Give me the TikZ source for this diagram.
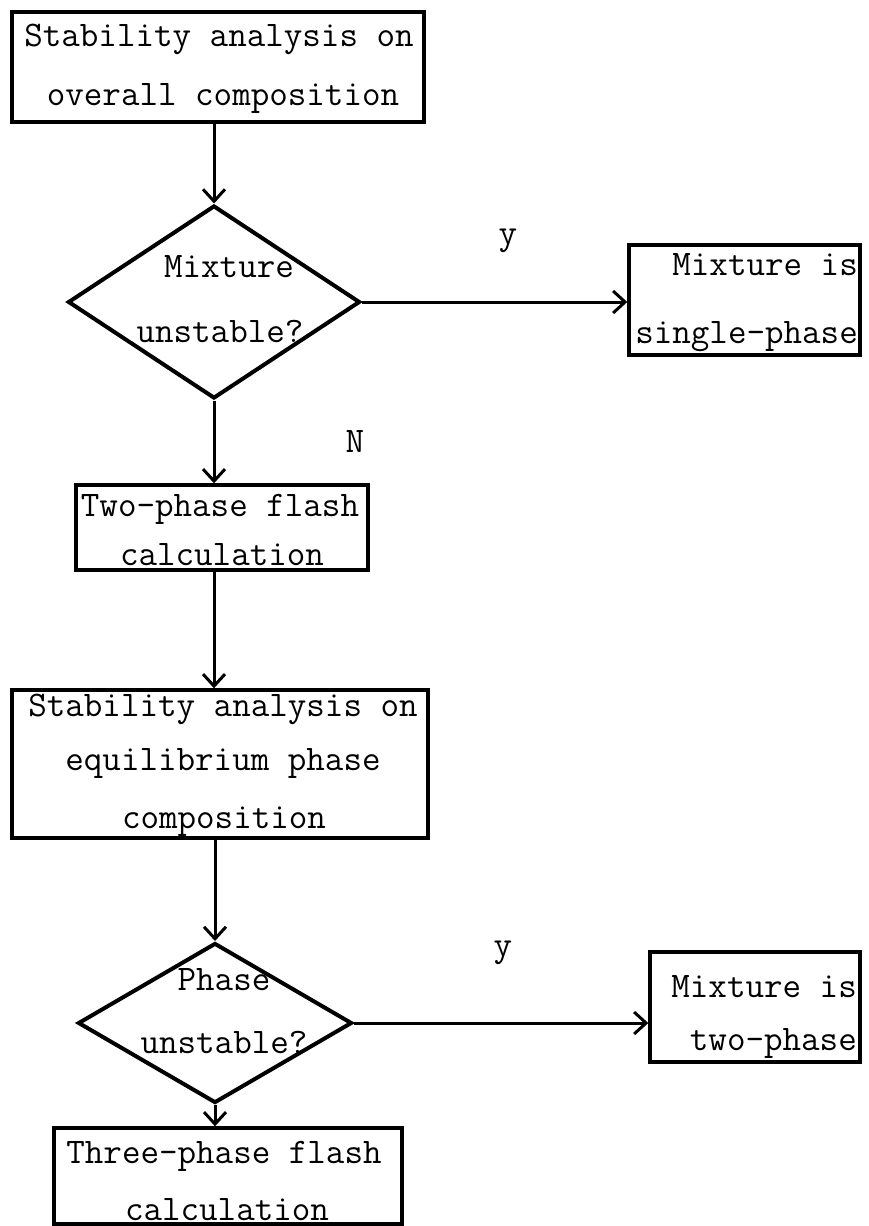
\documentclass[tikz,border=0pt]{standalone}
\usepackage{fontspec}
\usetikzlibrary{shapes.geometric,arrows.meta}
\begin{document}
\begin{tikzpicture}[x=1pt,y=-1pt,
  procbox/.style={draw, line width=3.4pt, rectangle, inner sep=0pt},
  decision/.style={draw, line width=4pt, diamond, inner sep=0pt},
  txt/.style={font=\ttfamily\fontsize{36}{40}\selectfont, inner sep=0pt, anchor=base},
  txtr/.style={txt, anchor=base east},
  flow/.style={line width=3pt, -{Straight Barb[length=12pt,width=22pt]}}]
\useasboundingbox (0,0) rectangle (869,1226);

% shapes
\node[procbox, minimum width=412pt, minimum height=110pt] (box1) at (218,67) {};
\node[decision, minimum width=292pt, minimum height=193pt] (d1) at (214,302) {};
\node[procbox, minimum width=231pt, minimum height=110pt] (r1) at (744.5,300) {};
\node[procbox, minimum width=292pt, minimum height=85pt] (box2) at (222,527.5) {};
\node[procbox, minimum width=416pt, minimum height=148pt] (box3) at (220,764) {};
\node[decision, minimum width=274pt, minimum height=160pt] (d2) at (215,1023) {};
\node[procbox, minimum width=210pt, minimum height=110pt] (r2) at (755,1007) {};
\node[procbox, minimum width=348pt, minimum height=96pt] (box4) at (228,1176) {};

% texts
\node[txt] (t1a) at (219,46) {Stability analysis on};
\node[txt] (t1b) at (223,105) {overall composition};
\node[txt] (td1a) at (229,277) {Mixture};
\node[txt] (td1b) at (220,342) {unstable?};
\node[txtr] (tr1a) at (858,275) {Mixture is};
\node[txtr] (tr1b) at (858,343) {single-phase};
\node[txt] (t2a) at (220,516) {Two-phase flash};
\node[txt] (t2b) at (222,565) {calculation};
\node[txt] (t3a) at (223,716) {Stability analysis on};
\node[txt] (t3b) at (223,770) {equilibrium phase};
\node[txt] (t3c) at (224,828) {composition};
\node[txt] (td2a) at (224,990) {Phase};
\node[txt] (td2b) at (224,1053) {unstable?};
\node[txtr] (tr2a) at (857,997) {Mixture is};
\node[txtr] (tr2b) at (857,1050) {two-phase};
\node[txt] (t4a) at (224,1163) {Three-phase flash};
\node[txt] (t4b) at (227,1220) {calculation};

% branch labels
\node[txt] (ly1) at (508,244) {y};
\node[txt] (ln1) at (355,452) {N};
\node[txt] (ly2) at (503,956) {y};

% connectors
\draw[flow] (d1.north |- box1.south) -- (d1.north);
\draw[flow] (d1.east) -- (d1.east -| r1.west);
\draw[flow] (d1.south) -- (d1.south |- box2.north);
\draw[flow] (d1.south |- box2.south) -- (d1.south |- box3.north);
\draw[flow] (d2.north |- box3.south) -- (d2.north);
\draw[flow] (d2.east) -- (d2.east -| r2.west);
\draw[flow] (d2.south) -- (d2.south |- box4.north);
\end{tikzpicture}
\end{document}
